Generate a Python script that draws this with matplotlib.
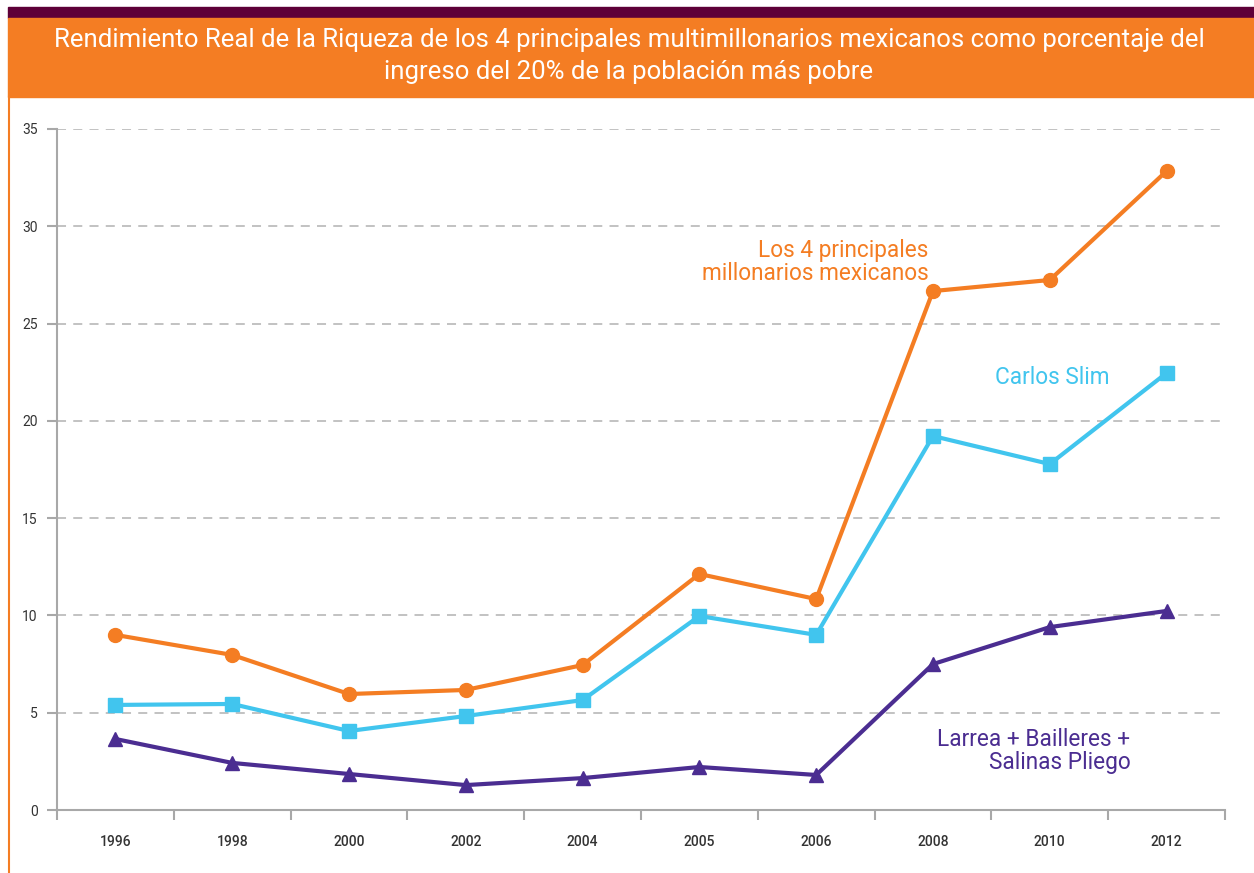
import numpy as np
import matplotlib
matplotlib.use("Agg")
import matplotlib.pyplot as plt
from matplotlib.patches import Rectangle
from matplotlib.lines import Line2D

years = ['1996', '1998', '2000', '2002', '2004', '2005', '2006', '2008', '2010', '2012']
top4 = [9.0, 7.97, 5.96, 6.17, 7.45, 12.13, 10.84, 26.67, 27.24, 32.84]
slim = [5.4, 5.45, 4.06, 4.83, 5.65, 9.97, 9.0, 19.22, 17.78, 22.46]
others = [3.65, 2.42, 1.85, 1.28, 1.64, 2.21, 1.8, 7.5, 9.4, 10.23]
yticks = [0, 5, 10, 15, 20, 25, 30, 35]

title = ("Rendimiento Real de la Riqueza de los 4 principales multimillonarios mexicanos como porcentaje del\n"
         "ingreso del 20% de la población más pobre")

ORANGE = '#F47D23'
BLUE = '#41C5EE'
PURPLE = '#4B2D91'
DARK = '#5E0038'
GREY = '#A8A8A8'

plt.rcParams['font.family'] = ['Roboto', 'DejaVu Sans']

fig = plt.figure(figsize=(12.54, 8.73), dpi=100)
W, H = 1254, 873

# header bands
fig.patches.append(Rectangle((8 / W, 1 - 18 / H), 1 - 8 / W, 11 / H, transform=fig.transFigure,
                             color=DARK, zorder=0))
fig.patches.append(Rectangle((8 / W, 1 - 97 / H), 1 - 8 / W, 79 / H, transform=fig.transFigure,
                             color=ORANGE, zorder=0))
fig.lines.append(Line2D([9 / W, 9 / W], [0, 1 - 97 / H], transform=fig.transFigure,
                        color=ORANGE, lw=1.5))
fig.text(629 / W, 1 - 56 / H, title, ha='center', va='center', color='white',
         fontsize=18.5, linespacing=1.4)

ax = fig.add_axes([57 / W, 1 - 810 / H, (1225 - 57) / W, (810 - 129) / H])
x = np.arange(len(years))

ax.plot(x, top4, color=ORANGE, lw=3, marker='o', ms=10, zorder=3, clip_on=False)
ax.plot(x, slim, color=BLUE, lw=3, marker='s', ms=10, zorder=3, clip_on=False)
ax.plot(x, others, color=PURPLE, lw=3, marker='^', ms=10, zorder=3, clip_on=False)

ax.set_xlim(-0.5, len(years) - 0.5)
ax.set_ylim(0, 35)
ax.set_yticks(yticks)
ax.set_yticklabels([str(v) for v in yticks])
ax.set_xticks(np.arange(-0.5, len(years), 1.0))
ax.set_xticklabels([])
ax.set_xticks(x, minor=True)
ax.set_xticklabels(years, minor=True)

for v in yticks[1:]:
    ax.axhline(v, color='#BDBDBD', lw=1.3, ls=(0, (5, 4)), zorder=1)

for s in ['top', 'right']:
    ax.spines[s].set_visible(False)
for s in ['left', 'bottom']:
    ax.spines[s].set_color(GREY)
    ax.spines[s].set_linewidth(1.5)

ax.tick_params(axis='y', which='major', length=7, width=1.5, color=GREY, labelsize=10,
               labelcolor='#333333', pad=7)
ax.tick_params(axis='x', which='major', length=7, width=1.5, color=GREY)
ax.tick_params(axis='x', which='minor', length=0, labelsize=10, labelcolor='#333333', pad=18)
for lab in ax.get_xticklabels(minor=True):
    lab.set_fontweight('medium')

ax.text(6.96, 28.15, "Los 4 principales\nmillonarios mexicanos", ha='right', va='center',
        color=ORANGE, fontsize=16.3, linespacing=1.0)
ax.text(8.51, 22.25, "Carlos Slim", ha='right', va='center', color=BLUE, fontsize=16.3)
ax.text(8.69, 3.05, "Larrea + Bailleres +\nSalinas Pliego", ha='right', va='center',
        color=PURPLE, fontsize=16.3, linespacing=1.0)

fig.savefig("out.png", dpi=100)
